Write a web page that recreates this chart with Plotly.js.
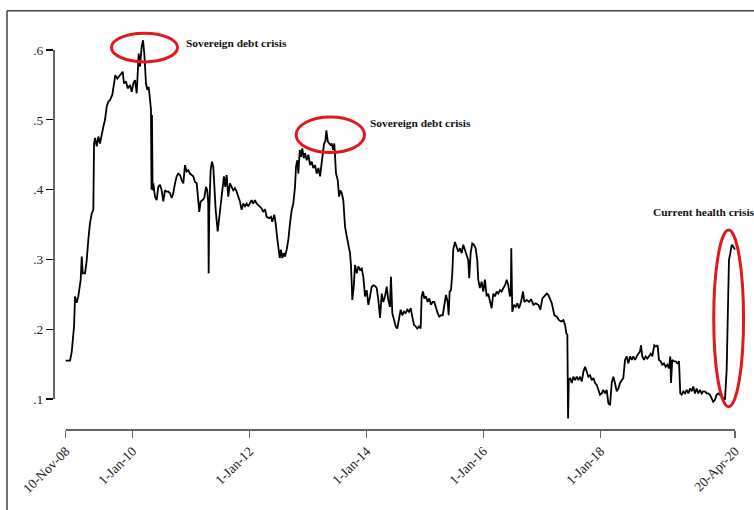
<!DOCTYPE html>
<html><head><meta charset="utf-8">
<script src="https://cdn.plot.ly/plotly-3.0.1.min.js"></script>
<style>html,body{margin:0;padding:0;background:#fff;} #chart{width:754px;height:510px;}</style>
</head><body><div id="chart"></div>
<script>
// Time in decimal years
const years = [
2008.858,2008.932,2008.961,2009.000,2009.017,2009.046,2009.073,2009.114,2009.132,2009.149,2009.188,2009.217,2009.244,2009.273,2009.303,2009.330,
2009.342,2009.359,2009.388,2009.415,2009.444,2009.473,2009.501,2009.530,2009.559,2009.586,2009.615,2009.655,2009.684,2009.706,2009.740,2009.774,
2009.815,2009.832,2009.855,2009.889,2009.918,2009.957,2009.986,2010.014,2010.043,2010.072,2010.089,2010.106,2010.128,2010.157,2010.180,2010.202,
2010.231,2010.253,2010.277,2010.299,2010.316,2010.325,2010.333,2010.344,2010.356,2010.385,2010.414,2010.441,2010.470,2010.499,2010.527,2010.556,
2010.585,2010.612,2010.641,2010.670,2010.698,2010.727,2010.756,2010.783,2010.812,2010.841,2010.869,2010.898,2010.926,2010.954,2010.983,2011.012,
2011.040,2011.069,2011.098,2011.125,2011.142,2011.166,2011.200,2011.228,2011.257,2011.279,2011.296,2011.303,2011.313,2011.337,2011.360,2011.382,
2011.399,2011.423,2011.457,2011.485,2011.508,2011.535,2011.564,2011.587,2011.611,2011.638,2011.667,2011.696,2011.724,2011.752,2011.782,2011.809,
2011.838,2011.867,2011.894,2011.924,2011.952,2011.980,2012.009,2012.038,2012.065,2012.094,2012.124,2012.151,2012.180,2012.209,2012.236,2012.266,
2012.295,2012.334,2012.368,2012.390,2012.424,2012.448,2012.471,2012.493,2012.517,2012.539,2012.561,2012.585,2012.607,2012.636,2012.664,2012.693,
2012.722,2012.749,2012.778,2012.795,2012.818,2012.835,2012.859,2012.881,2012.903,2012.927,2012.949,2012.978,2013.006,2013.035,2013.064,2013.091,
2013.120,2013.149,2013.177,2013.206,2013.235,2013.252,2013.274,2013.296,2013.314,2013.338,2013.360,2013.382,2013.406,2013.428,2013.450,2013.462,
2013.479,2013.508,2013.531,2013.553,2013.577,2013.604,2013.633,2013.662,2013.690,2013.719,2013.736,2013.758,2013.782,2013.804,2013.833,2013.861,
2013.890,2013.919,2013.946,2013.975,2014.004,2014.032,2014.061,2014.090,2014.117,2014.146,2014.175,2014.203,2014.232,2014.261,2014.288,2014.317,
2014.346,2014.373,2014.402,2014.419,2014.442,2014.471,2014.500,2014.527,2014.556,2014.585,2014.613,2014.642,2014.671,2014.698,2014.727,2014.757,
2014.784,2014.813,2014.842,2014.869,2014.898,2014.927,2014.944,2014.967,2014.989,2015.018,2015.047,2015.075,2015.104,2015.133,2015.160,2015.189,
2015.218,2015.246,2015.275,2015.304,2015.331,2015.360,2015.389,2015.406,2015.423,2015.446,2015.468,2015.485,2015.514,2015.543,2015.570,2015.599,
2015.628,2015.656,2015.685,2015.714,2015.741,2015.758,2015.782,2015.810,2015.839,2015.868,2015.895,2015.912,2015.941,2015.970,2015.998,2016.027,
2016.056,2016.083,2016.112,2016.141,2016.169,2016.198,2016.227,2016.254,2016.283,2016.312,2016.340,2016.369,2016.398,2016.425,2016.454,2016.468,
2016.476,2016.493,2016.522,2016.551,2016.579,2016.608,2016.642,2016.676,2016.699,2016.740,2016.779,2016.814,2016.853,2016.894,2016.938,2016.972,
2017.007,2017.041,2017.082,2017.109,2017.138,2017.168,2017.212,2017.253,2017.292,2017.326,2017.366,2017.395,2017.417,2017.434,2017.446,2017.458,
2017.481,2017.510,2017.537,2017.566,2017.595,2017.622,2017.651,2017.680,2017.708,2017.737,2017.766,2017.793,2017.822,2017.851,2017.879,2017.908,
2017.937,2017.964,2017.993,2018.022,2018.049,2018.078,2018.107,2018.135,2018.164,2018.193,2018.220,2018.249,2018.278,2018.306,2018.335,2018.364,
2018.391,2018.420,2018.449,2018.477,2018.506,2018.535,2018.562,2018.591,2018.620,2018.648,2018.677,2018.694,2018.716,2018.745,2018.774,2018.801,
2018.830,2018.860,2018.887,2018.921,2018.950,2018.979,2019.001,2019.031,2019.058,2019.087,2019.116,2019.144,2019.173,2019.195,2019.207,2019.229,
2019.258,2019.287,2019.315,2019.344,2019.366,2019.390,2019.417,2019.446,2019.475,2019.503,2019.532,2019.561,2019.588,2019.617,2019.646,2019.674,
2019.703,2019.732,2019.759,2019.788,2019.817,2019.845,2019.874,2019.903,2019.930,2019.959,2019.988,2020.016,2020.045,2020.074,2020.101,2020.130,
2020.159,2020.176,2020.198,2020.221,2020.245,2020.272,2020.301
];
const values = [
.155,.155,.168,.204,.247,.238,.247,.271,.304,.280,.280,.299,.328,.352,.366,.371,
.466,.474,.462,.476,.466,.481,.490,.500,.519,.526,.528,.536,.552,.564,.559,.562,
.567,.569,.552,.555,.545,.550,.540,.552,.557,.538,.571,.595,.576,.605,.614,.595,
.552,.543,.547,.528,.515,.400,.507,.399,.409,.390,.385,.404,.407,.399,.383,.399,
.397,.397,.395,.388,.395,.409,.419,.423,.421,.414,.409,.435,.426,.428,.423,.421,
.419,.411,.409,.385,.368,.383,.385,.388,.404,.399,.380,.280,.371,.428,.440,.433,
.399,.371,.340,.361,.376,.395,.419,.404,.421,.390,.409,.404,.399,.402,.397,.390,
.383,.371,.380,.376,.380,.376,.380,.385,.380,.385,.380,.378,.376,.373,.368,.372,
.361,.359,.361,.354,.364,.352,.333,.314,.302,.314,.302,.309,.304,.314,.328,.352,
.371,.380,.404,.433,.442,.423,.457,.447,.459,.445,.452,.442,.450,.435,.440,.431,
.435,.423,.431,.419,.438,.457,.466,.469,.485,.469,.466,.464,.466,.457,.466,.452,
.423,.414,.390,.399,.395,.385,.347,.333,.323,.309,.290,.242,.261,.292,.280,.290,
.285,.287,.275,.247,.256,.235,.247,.261,.263,.262,.259,.242,.216,.251,.239,.247,
.261,.242,.232,.275,.223,.213,.204,.201,.213,.228,.220,.225,.223,.228,.225,.230,
.218,.206,.204,.201,.204,.201,.247,.254,.244,.247,.239,.244,.235,.239,.239,.230,
.223,.218,.220,.220,.232,.249,.239,.220,.254,.256,.280,.314,.325,.318,.311,.316,
.309,.321,.314,.306,.299,.273,.309,.323,.321,.316,.299,.271,.259,.268,.254,.271,
.247,.251,.239,.230,.251,.247,.254,.251,.256,.254,.259,.263,.271,.263,.247,.250,
.316,.225,.235,.232,.237,.230,.239,.254,.239,.242,.239,.243,.235,.237,.235,.228,
.244,.247,.251,.249,.244,.237,.220,.218,.213,.211,.213,.206,.194,.192,.072,.127,
.130,.123,.132,.127,.132,.127,.132,.125,.139,.146,.139,.132,.134,.127,.130,.123,
.120,.113,.106,.108,.113,.108,.113,.094,.091,.123,.132,.123,.111,.115,.123,.127,
.130,.156,.161,.151,.161,.156,.161,.156,.161,.165,.168,.177,.161,.156,.161,.158,
.161,.165,.161,.177,.175,.177,.156,.154,.149,.151,.146,.149,.144,.161,.123,.156,
.154,.154,.151,.154,.108,.106,.111,.108,.113,.108,.115,.111,.118,.108,.115,.108,
.113,.108,.111,.111,.108,.108,.106,.101,.096,.099,.106,.108,.106,.103,.101,.099,
.142,.237,.299,.309,.321,.318,.314
];
const tickDates = ['2008-11-10','2010-01-01','2012-01-01','2014-01-01','2016-01-01','2018-01-01','2020-04-20'];
const tickLabels = ['10-Nov-08','1-Jan-10','1-Jan-12','1-Jan-14','1-Jan-16','1-Jan-18','20-Apr-20'];
const yTickVals = [0.1,0.2,0.3,0.4,0.5,0.6];
const yTickLabels = ['.1','.2','.3','.4','.5','.6'];
const crisisLabels = ['Sovereign debt crisis','Sovereign debt crisis','Current health crisis'];

function ms(y){ const Y=Math.floor(y); const s=Date.UTC(Y,0,1), e=Date.UTC(Y+1,0,1); return s+(y-Y)*(e-s); }
function yd(y){ return new Date(ms(y)).toISOString().slice(0,19).replace('T',' '); }

const xRange = [2008.658, 2020.557];
const yRange = [0.0556, 0.643];
const xFrac = d => (Date.parse(d+'T00:00:00Z') - ms(xRange[0]))/(ms(xRange[1]) - ms(xRange[0]));
const yFrac = v => (v - yRange[0])/(yRange[1]-yRange[0]);

const serif = 'Liberation Serif, Times New Roman, serif';
const red = '#e3171e';

const trace = {
  x: years.map(yd), y: values, type: 'scatter', mode: 'lines',
  line: {color: '#000', width: 1.8}, hoverinfo: 'skip'
};

const layout = {
  width: 754, height: 510,
  margin: {l: 54, r: 4, t: 20, b: 80},
  paper_bgcolor: '#fff', plot_bgcolor: '#fff',
  showlegend: false,
  font: {family: serif, size: 13, color: '#222'},
  xaxis: {
    type: 'date', range: [yd(xRange[0]), yd(xRange[1])],
    tickvals: tickDates, ticktext: tickLabels, tickangle: -45,
    ticks: 'outside', ticklen: 7, tickwidth: 1.5, tickcolor: '#666',
    showgrid: false, zeroline: false, showline: false,
    tickfont: {family: serif, size: 13.5, color: '#222'}
  },
  yaxis: {
    range: yRange, tickvals: yTickVals, ticktext: yTickLabels,
    ticks: 'outside', ticklen: 7, tickwidth: 1.2, tickcolor: '#111',
    showgrid: false, zeroline: false, showline: false,
    tickfont: {family: serif, size: 13.5, color: '#222'}
  },
  shapes: [
    {type: 'line', xref: 'paper', yref: 'paper', x0: xFrac(tickDates[0]), x1: xFrac(tickDates[tickDates.length-1]), y0: 0, y1: 0,
     line: {color: '#666', width: 2}},
    {type: 'line', xref: 'paper', yref: 'paper', x0: 0, x1: 0, y0: yFrac(yTickVals[0]), y1: yFrac(yTickVals[yTickVals.length-1]),
     line: {color: '#111', width: 1.3}},
    {type: 'line', xref: 'paper', yref: 'paper', x0: -0.0675, x1: 1.01, y0: 1.0225, y1: 1.0225, line: {color: '#444', width: 1.5}},
    {type: 'line', xref: 'paper', yref: 'paper', x0: -0.0675, x1: -0.0675, y0: -0.2, y1: 1.0225, line: {color: '#444', width: 1.5}},
    {type: 'circle', xref: 'x', yref: 'y', x0: yd(2009.640), x1: yd(2010.770), y0: 0.583, y1: 0.624, line: {color: red, width: 3}},
    {type: 'circle', xref: 'x', yref: 'y', x0: yd(2012.798), x1: yd(2013.967), y0: 0.453, y1: 0.504, line: {color: red, width: 3}},
    {type: 'circle', xref: 'x', yref: 'y', x0: yd(2019.938), x1: yd(2020.447), y0: 0.089, y1: 0.342, line: {color: red, width: 3}}
  ],
  annotations: [
    {xref: 'paper', yref: 'paper', x: 0.1865, y: 0.943, xanchor: 'left', yanchor: 'middle', showarrow: false,
     text: '<b>' + crisisLabels[0] + '</b>', font: {family: serif, size: 11.4, color: '#111'}},
    {xref: 'paper', yref: 'paper', x: 0.4505, y: 0.7495, xanchor: 'left', yanchor: 'middle', showarrow: false,
     text: '<b>' + crisisLabels[1] + '</b>', font: {family: serif, size: 11.4, color: '#111'}},
    {xref: 'paper', yref: 'paper', x: 0.8575, y: 0.5324, xanchor: 'left', yanchor: 'middle', showarrow: false,
     text: '<b>' + crisisLabels[2] + '</b>', font: {family: serif, size: 11.4, color: '#111'}}
  ]
};

Plotly.newPlot('chart', [trace], layout, {displayModeBar: false, staticPlot: true});
</script>
</body></html>
